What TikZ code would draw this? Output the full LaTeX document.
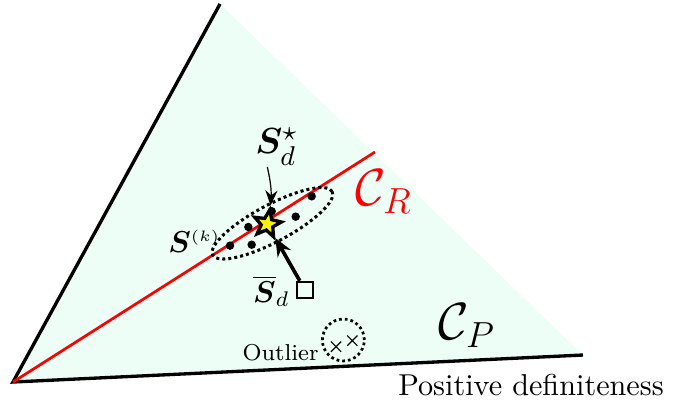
\documentclass[tikz,border=0pt]{standalone}
\usepackage{amsmath,amssymb,bm}
\usetikzlibrary{shapes.geometric,shapes.misc,arrows.meta}
\definecolor{cpfill}{HTML}{EDFEF7}
\begin{document}
\begin{tikzpicture}[line width=0.6pt]
  \useasboundingbox (0,0) rectangle (8.048,4.745);
  \coordinate (O) at (0.151,0.302);
  \coordinate (T) at (2.559,4.699);
  \coordinate (E) at (6.780,0.616);
  \coordinate (R) at (4.361,2.977);
  \fill[cpfill] (O) -- (T) -- (E) -- cycle;
  \draw[line width=1.1pt] (T) -- (O) -- (E);
  \draw[red, line width=0.9pt] (O) -- (R);
  \draw[densely dotted, line width=1pt, rotate around={28:(3.169,2.148)}] (3.169,2.148) ellipse (0.787 and 0.215);
  \fill (2.675,1.888) circle (1.4pt);
  \fill (2.927,1.899) circle (1.4pt);
  \fill (2.888,2.105) circle (1.4pt);
  \fill (3.160,2.288) circle (1.4pt);
  \fill (3.439,2.225) circle (1.4pt);
  \fill (3.625,2.462) circle (1.4pt);
  \node[star, star points=5, star point ratio=2.3, minimum size=0.33cm, inner sep=0pt, rotate=-10,
        fill=yellow, draw, line width=1.1pt] (star) at (3.109,2.140) {};
  \node[draw, minimum size=5.5pt, inner sep=0pt] (sq) at (3.547,1.372) {};
  \draw[-{Stealth[length=6pt,width=5pt]}, line width=1.2pt] (sq) -- (star);
  \node[font=\fontsize{13}{15}\selectfont, inner sep=1.5pt] (sstar) at (3.216,3.041) {$\bm{S}_d^\star$};
  \draw[-{Stealth[length=5pt,width=4pt]}, line width=0.4pt] (3.109,2.803) to[bend left=8] (star.north);
  \node[inner sep=1.5pt] (sbar) at (3.157,1.361) {$\overline{\bm{S}}_d$};
  \node[inner sep=1.5pt] (sk) at (2.262,1.942) {$\bm{S}^{\scriptscriptstyle(k)}$};
  \node[font=\LARGE, text=red, inner sep=1.5pt] (cr) at (4.466,2.512) {$\mathcal{C}_R$};
  \node[font=\LARGE, inner sep=1.5pt] (cp) at (5.431,0.954) {$\mathcal{C}_P$};
  \draw[densely dotted, line width=0.9pt] (3.993,0.791) circle (0.244);
  \node[cross out, draw, minimum size=3pt, inner sep=0pt, line width=0.4pt] (x1) at (3.908,0.713) {};
  \node[cross out, draw, minimum size=3pt, inner sep=0pt, line width=0.4pt] (x2) at (4.097,0.783) {};
  \node[font=\fontsize{7.6}{9}\selectfont, anchor=east, inner sep=1pt] (out) at (3.75,0.640) {Outlier};
  \node[inner sep=1.5pt] (pd) at (6.176,0.267) {Positive definiteness};
\end{tikzpicture}
\end{document}
